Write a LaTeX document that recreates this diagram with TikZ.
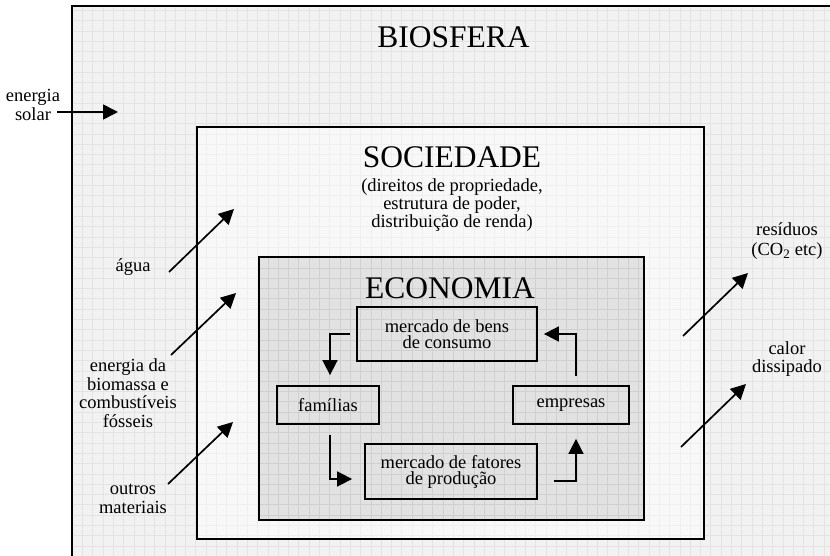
\documentclass[tikz,border=0pt]{standalone}
\usepackage{fontspec}
\setmainfont{Liberation Serif}
\usetikzlibrary{arrows.meta}
\definecolor{bio}{HTML}{F2F2F2}
\definecolor{biogrid}{HTML}{E4E4E4}
\definecolor{soc}{HTML}{F8F8F8}
\definecolor{socgrid}{HTML}{EFEFEF}
\definecolor{eco}{HTML}{E2E2E2}
\definecolor{ecogrid}{HTML}{D0D0D0}
\begin{document}
\begin{tikzpicture}[x=1pt,y=-1pt,
  arr/.style={line width=1.7pt,-{Triangle[length=15pt,width=15pt]}},
  boxnode/.style={draw,line width=1.8pt,align=center,inner sep=0pt,font=\fontsize{18.5}{16}\selectfont},
  lbl/.style={align=center,inner sep=0pt,font=\fontsize{18.5}{18.5}\selectfont},
  ttl/.style={inner sep=0pt,anchor=base,font=\fontsize{31.5}{36}\selectfont},
  gridline/.style={line width=0.6pt}]
\useasboundingbox (0,0) rectangle (830,556);
% biosfera background
\fill[bio] (72,6) rectangle (830,556);
\draw[gridline,biogrid,step=10.3pt] (72,6) grid (830,556);
\draw[line width=2.4pt] (72,556) -- (72,6) -- (830,6);
% sociedade background
\fill[soc] (197,127) rectangle (704,539);
\draw[gridline,socgrid,step=10.3pt] (197,127) grid (704,539);
% economia background
\fill[eco] (259,257) rectangle (644,520);
\draw[gridline,ecogrid,step=10.3pt] (259,257) grid (644,520);
% frames
\node[draw,line width=2pt,inner sep=0pt,minimum width=507pt,minimum height=412pt] (soc) at (450.5,333) {};
\node[draw,line width=2pt,inner sep=0pt,minimum width=385pt,minimum height=263pt] (eco) at (451.5,388.5) {};
% titles
\node[ttl] (tbio) at (453.5,48) {BIOSFERA};
\node[ttl] (tsoc) at (452,168) {SOCIEDADE};
\node[ttl] (teco) at (450,298) {ECONOMIA};
\node[align=center,inner sep=0pt,font=\fontsize{18.5}{16}\selectfont] (sub) at (452,205) {(direitos de propriedade,\\estrutura de poder,\\distribuição de renda)};
% economy boxes
\node[boxnode,minimum width=180pt,minimum height=54pt] (bens) at (447,334) {mercado de bens\\de consumo};
\node[boxnode,minimum width=102pt,minimum height=38pt] (fam) at (328,405) {famílias};
\node[boxnode,minimum width=172pt,minimum height=55pt] (fat) at (451,471.5) {mercado de fatores\\de produção};
\node[boxnode,minimum width=116pt,minimum height=38pt] (emp) at (571,405) {empresas};
% cycle connectors
\draw[arr,shorten <=6pt,shorten >=10pt] (bens.west) -| ([xshift=2pt]fam.north);
\draw[arr,shorten <=10pt,shorten >=12pt] ([xshift=2pt]fam.south) |- ([yshift=-7.5pt]fat.west);
\draw[arr,shorten <=16pt,shorten >=14pt] ([yshift=-9.5pt]fat.east) -| ([xshift=5pt]emp.south);
\draw[arr,shorten <=9pt,shorten >=6pt] ([xshift=5pt]emp.north) |- (bens.east);
% outside labels
\node[lbl] (solar) at (33,105) {energia\\solar};
\node[lbl] (agua) at (133,267) {água};
\node[lbl] (biom) at (128,393) {energia da\\biomassa e\\combustíveis\\fósseis};
\node[lbl] (outros) at (133,499) {outros\\materiais};
\node[lbl,font=\fontsize{18.5}{20}\selectfont] (resid) at (787,241) {resíduos\\(CO\textsubscript{2} etc)};
\node[lbl] (calor) at (787,359) {calor\\dissipado};
% arrow endpoints
\coordinate (solarS) at (57,112);
\coordinate (solarE) at (118,112);
\coordinate (aguaS) at (169,272);
\coordinate (aguaE) at (234,209);
\coordinate (biomS) at (171,355);
\coordinate (biomE) at (236,293);
\coordinate (outS) at (168,484);
\coordinate (outE) at (233,422);
\coordinate (resS) at (683,336);
\coordinate (resE) at (748,273);
\coordinate (calS) at (681,447);
\coordinate (calE) at (746,384);
\draw[arr] (solarS) -- (solarE);
\draw[arr] (aguaS) -- (aguaE);
\draw[arr] (biomS) -- (biomE);
\draw[arr] (outS) -- (outE);
\draw[arr] (resS) -- (resE);
\draw[arr] (calS) -- (calE);
\end{tikzpicture}
\end{document}
